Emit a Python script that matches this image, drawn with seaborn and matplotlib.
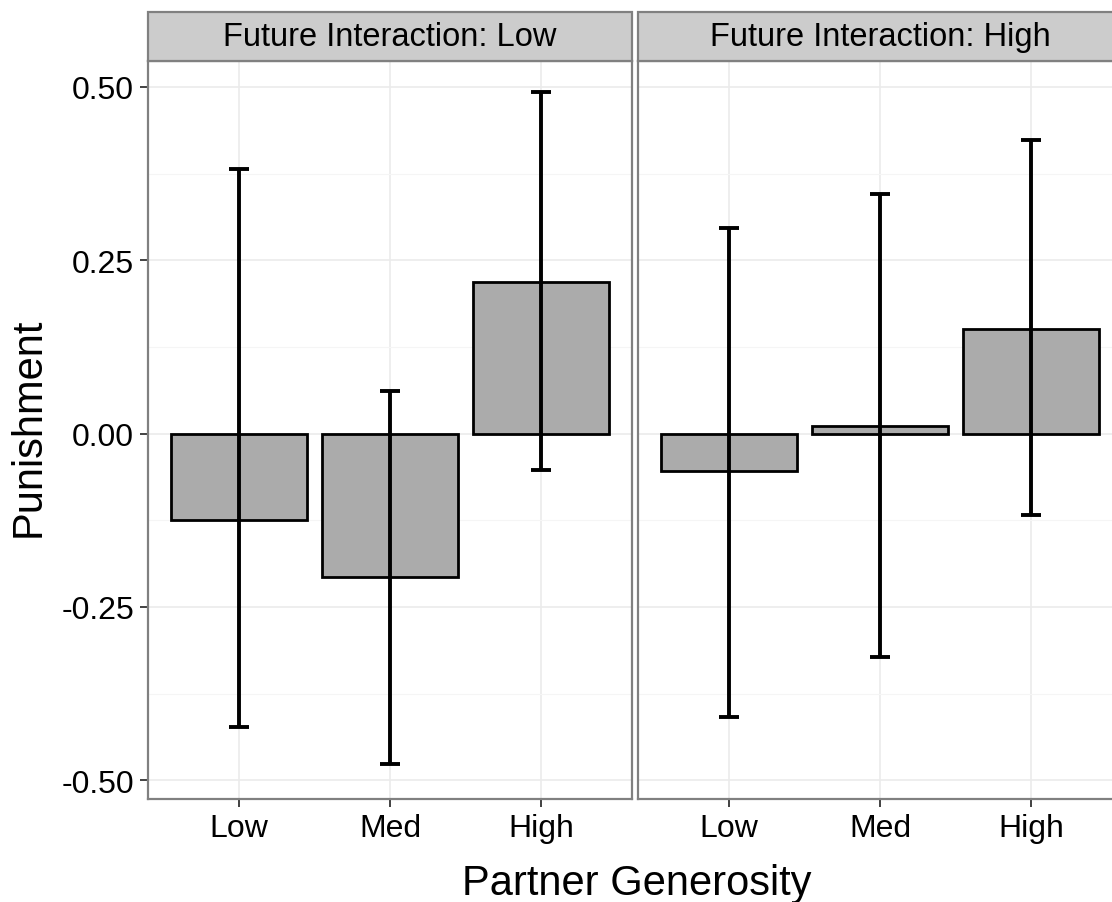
import matplotlib
matplotlib.use("Agg")
import matplotlib.pyplot as plt
import seaborn as sns
import pandas as pd
from matplotlib.patches import Rectangle

# Veriler
generosity = ["Low", "Med", "High"]
facets = ["Future Interaction: Low", "Future Interaction: High"]
means_low_future = [-0.125, -0.207, 0.219]
lower_low_future = [-0.423, -0.477, -0.053]
upper_low_future = [0.382, 0.062, 0.493]
means_high_future = [-0.054, 0.011, 0.151]
lower_high_future = [-0.409, -0.322, -0.117]
upper_high_future = [0.297, 0.346, 0.423]
y_ticks = [-0.50, -0.25, 0.00, 0.25, 0.50]

sns.set_theme(style="white")
plt.rcParams['font.family'] = ['Liberation Sans', 'DejaVu Sans']

df = pd.DataFrame({
    "Generosity": generosity * 2,
    "Facet": [facets[0]] * 3 + [facets[1]] * 3,
    "Punishment": means_low_future + means_high_future,
    "lower": lower_low_future + lower_high_future,
    "upper": upper_low_future + upper_high_future,
})

W, H = 1112, 903
fig = plt.figure(figsize=(W / 100, H / 100), dpi=100)

panel_w = 484
panel_lefts = [148, 638]
panel_top, panel_bot = 62, 800
strip_top = 13

for k, (facet, left) in enumerate(zip(facets, panel_lefts)):
    ax = fig.add_axes([left / W, (H - panel_bot) / H, panel_w / W, (panel_bot - panel_top) / H])
    sub = df[df["Facet"] == facet]
    sns.barplot(data=sub, x="Generosity", y="Punishment", order=generosity,
                color="#ababab", saturation=1, errorbar=None, width=0.9,
                edgecolor="black", linewidth=2, ax=ax, zorder=2)
    xs = range(len(generosity))
    m = sub["Punishment"].values
    ax.errorbar(list(xs), m, yerr=[m - sub["lower"].values, sub["upper"].values - m],
                fmt="none", ecolor="black", elinewidth=2.8, capsize=7, capthick=2.8, zorder=3)

    ax.set_xlim(-0.6, 2.6)
    ax.set_ylim(-0.527, 0.5375)
    ax.set_yticks(y_ticks)
    ax.set_yticks([-0.375, -0.125, 0.125, 0.375], minor=True)
    ax.grid(True, which="major", color="#ebebeb", linewidth=1.2, zorder=0)
    ax.grid(True, which="minor", axis="y", color="#f5f5f5", linewidth=0.8, zorder=0)
    ax.set_axisbelow(True)
    ax.set_xlabel("")
    ax.set_ylabel("")
    ax.tick_params(axis="both", which="major", direction="out", length=6, width=1.3,
                   color="#333333", labelsize=23, labelcolor="black", pad=4,
                   bottom=True, left=True)
    ax.tick_params(axis="y", which="minor", length=0)
    if k == 0:
        ax.set_yticklabels([f"{v:.2f}" for v in y_ticks])
    else:
        ax.tick_params(axis="y", left=False, labelleft=False)
    for sp in ax.spines.values():
        sp.set_color("#808080")
        sp.set_linewidth(1.6)
        sp.set_visible(True)

    # Başlık şeridi (strip)
    strip = Rectangle((left / W, (H - panel_top) / H), panel_w / W, (panel_top - strip_top) / H,
                      transform=fig.transFigure, facecolor="#cccccc", edgecolor="#808080",
                      linewidth=1.6, zorder=1)
    fig.patches.append(strip)
    fig.text((left + panel_w / 2) / W, (H - (panel_top + strip_top) / 2) / H, facet,
             ha="center", va="center", fontsize=23.5, color="black")

fig.text(637 / W, (H - 895) / H, "Partner Generosity", ha="center", va="baseline",
         fontsize=30, color="black")
fig.text(29 / W, (H - 427) / H, "Punishment", ha="center", va="center", fontsize=30,
         rotation=90, color="black")

fig.savefig("out.png", dpi=100)
